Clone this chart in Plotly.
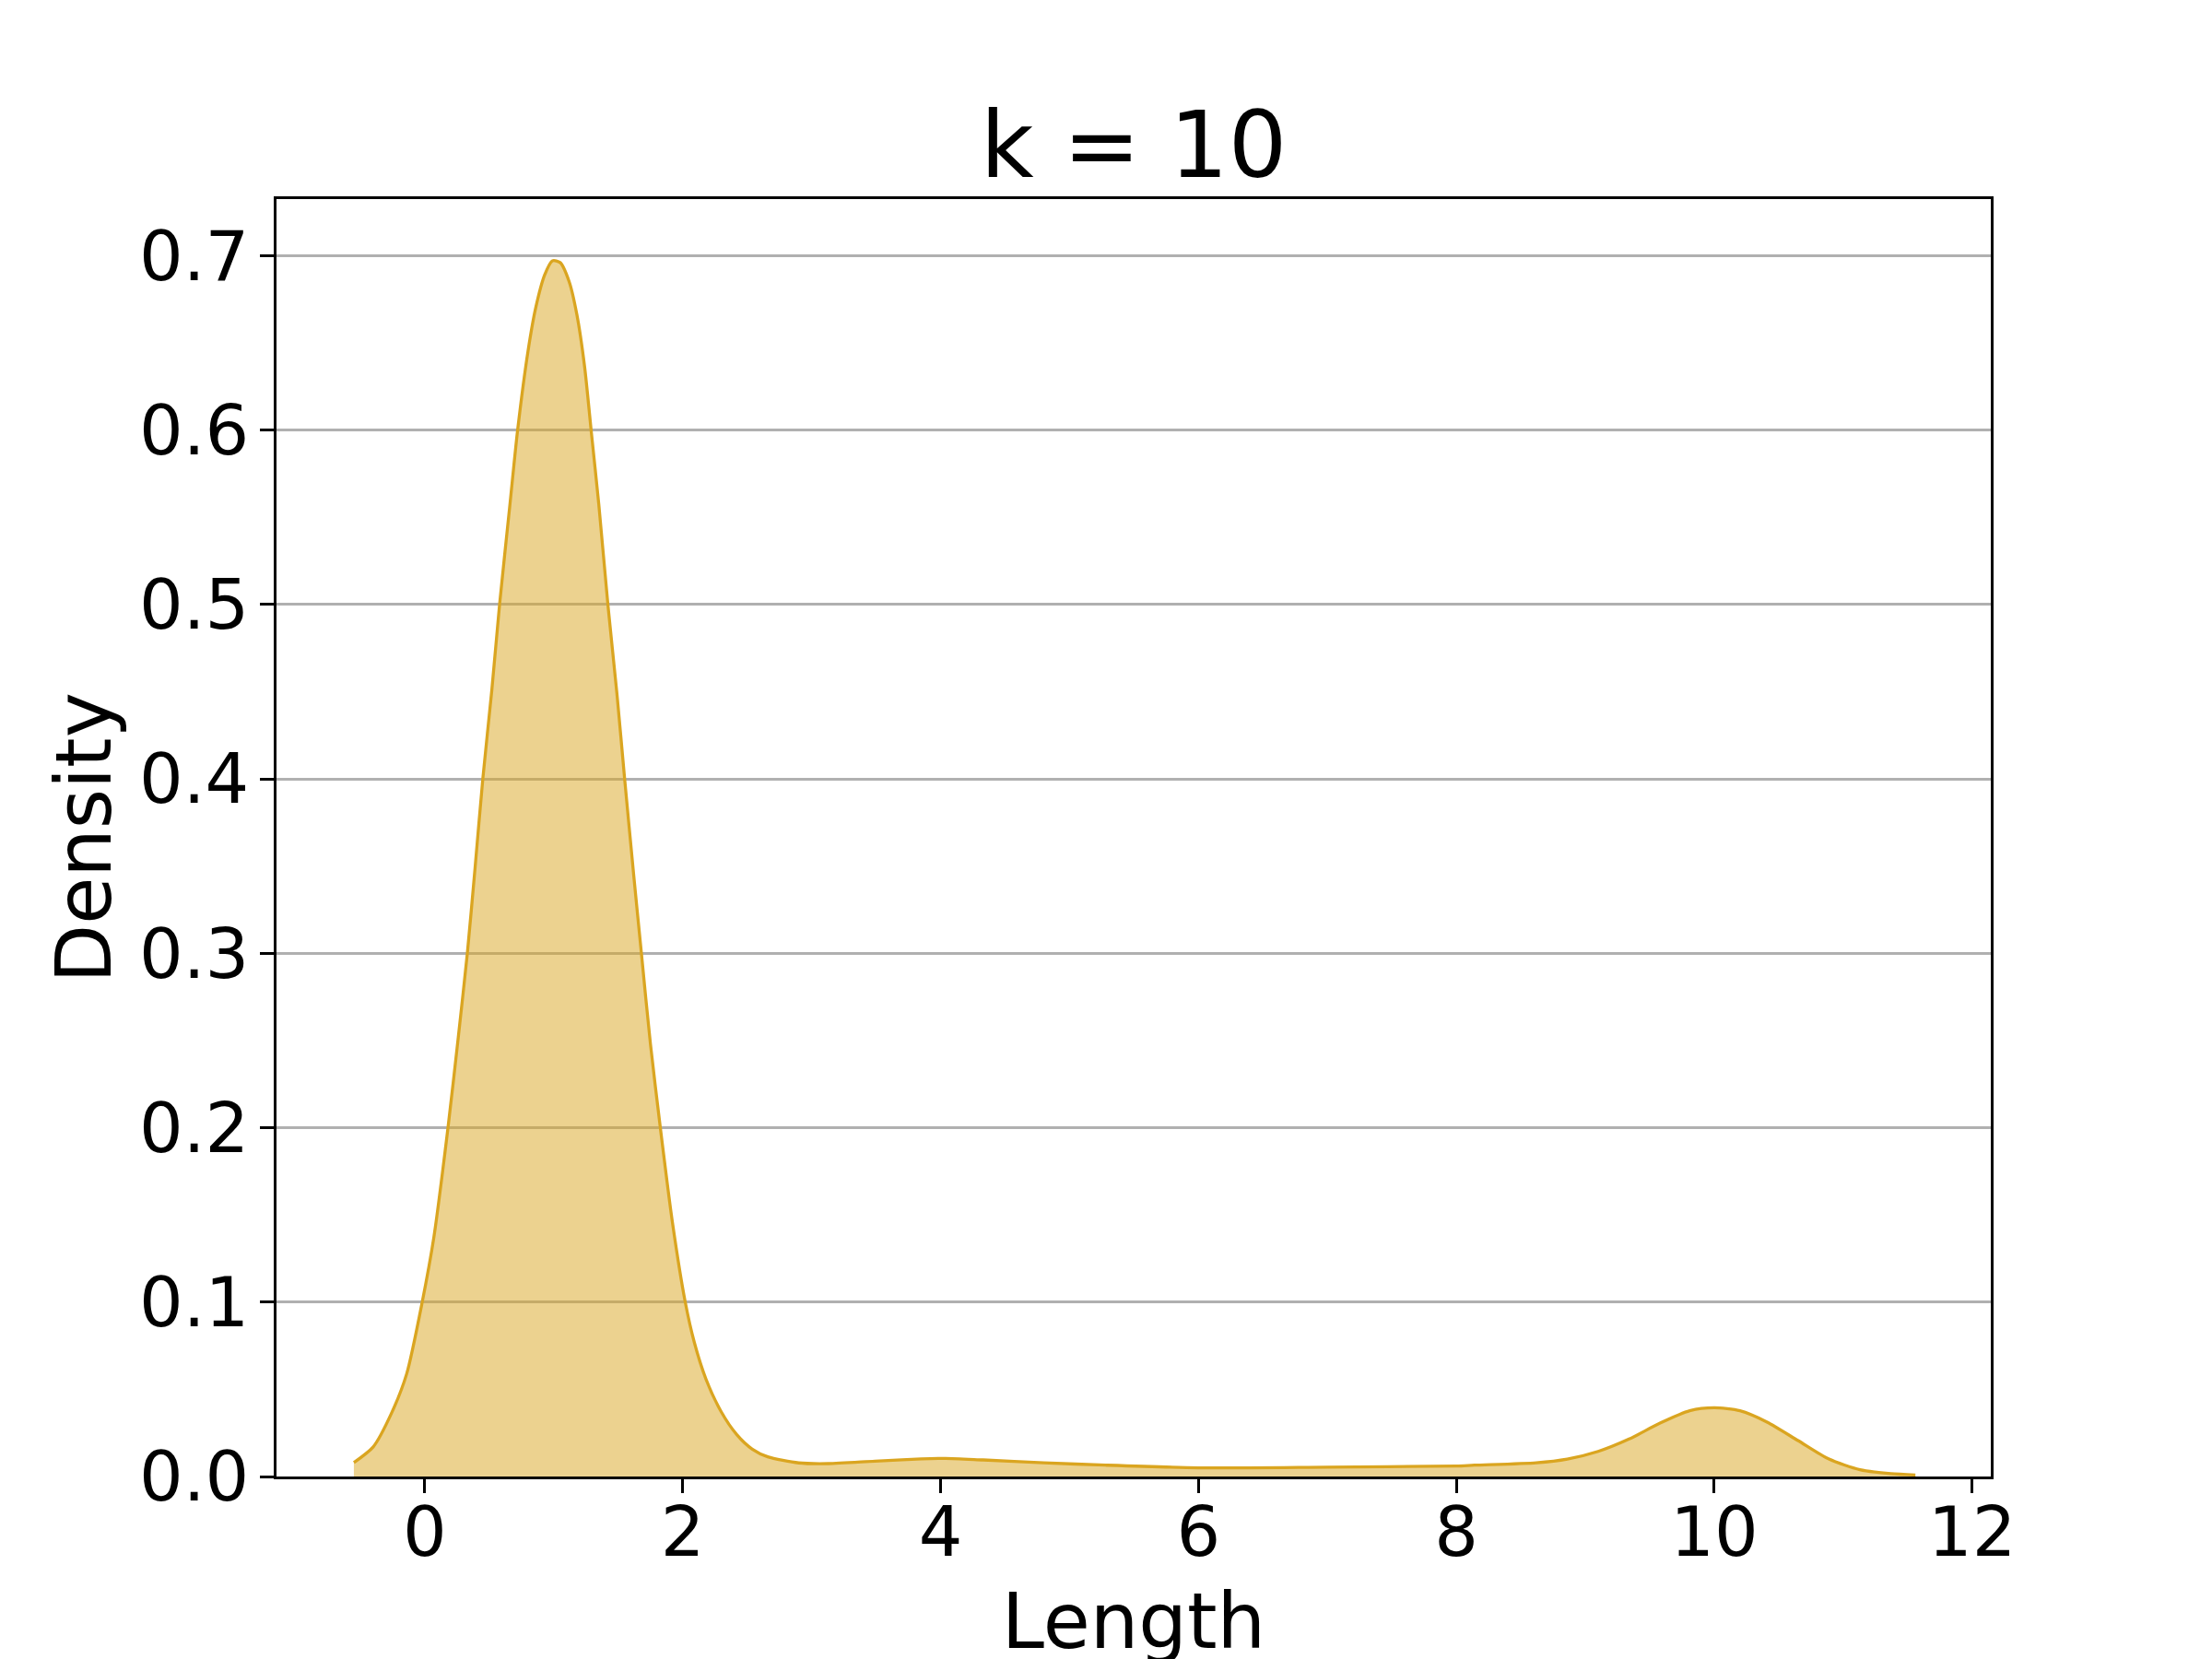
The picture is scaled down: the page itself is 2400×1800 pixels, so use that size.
import plotly.graph_objects as go

# KDE curve
length = [-0.55, -0.40, -0.26, -0.14, -0.02, 0.07, 0.18, 0.26, 0.33, 0.39, 0.45, 0.52,
          0.58, 0.66, 0.72, 0.80, 0.86, 0.93, 0.99, 1.05, 1.12, 1.18, 1.24, 1.29, 1.35,
          1.42, 1.49, 1.55, 1.62, 1.68, 1.75, 1.83, 1.92, 2.02, 2.09, 2.18, 2.30, 2.42,
          2.54, 2.66, 2.90, 3.13, 3.49, 3.85, 4.04, 4.33, 4.80, 5.28, 6.00, 7.00, 8.00,
          8.14, 8.62, 8.86, 9.10, 9.34, 9.58, 9.81, 10.00, 10.20, 10.41, 10.65, 10.89,
          11.13, 11.37, 11.56]
density = [0.008, 0.017, 0.036, 0.059, 0.100, 0.137, 0.200, 0.252, 0.300, 0.349, 0.400, 0.451,
           0.500, 0.557, 0.600, 0.645, 0.670, 0.689, 0.697, 0.696, 0.685, 0.666, 0.636, 0.600, 0.557,
           0.500, 0.449, 0.400, 0.345, 0.300, 0.248, 0.198, 0.146, 0.100, 0.077, 0.056, 0.037, 0.024,
           0.0157, 0.0113, 0.0078, 0.0074, 0.0088, 0.0101, 0.0104, 0.0095, 0.0079, 0.0065, 0.0050, 0.0054, 0.0060,
           0.0065, 0.0079, 0.0100, 0.0144, 0.0215, 0.0306, 0.0377, 0.0394, 0.0377, 0.0312, 0.0206, 0.0100,
           0.0039, 0.0016, 0.0009]

y_ticks = [0.0, 0.1, 0.2, 0.3, 0.4, 0.5, 0.6, 0.7]
x_ticks = [0, 2, 4, 6, 8, 10, 12]

FONT = "DejaVu Sans"

fig = go.Figure()
fig.add_trace(go.Scatter(
    x=length, y=density, mode="lines",
    line=dict(color="#DAA520", width=3.3, shape="spline", smoothing=0.7),
    fill="tozeroy", fillcolor="rgba(218,165,32,0.5)",
    showlegend=False, hoverinfo="skip",
))

axis_common = dict(
    showline=True, linecolor="black", linewidth=2.5, mirror=True,
    ticks="outside", ticklen=15, tickwidth=2.5, tickcolor="black",
    tickfont=dict(family=FONT, size=75, color="black"),
    zeroline=False, automargin=False,
)

fig.update_layout(
    width=2400, height=1800,
    margin=dict(l=292, r=248, t=208, b=206),
    paper_bgcolor="white", plot_bgcolor="white",
    font=dict(family=FONT, color="black"),
    title=dict(text="k = 10", x=0.5, xanchor="center", xref="paper",
               y=1 - 184 / 1800, yref="container", yanchor="bottom",
               font=dict(family=FONT, size=100, color="black")),
    xaxis=dict(range=[-1.15, 12.145], tickvals=x_ticks, showgrid=False,
               ticklabelstandoff=-22,
               title=dict(text="Length", font=dict(family=FONT, size=83), standoff=32),
               **axis_common),
    yaxis=dict(range=[0, 0.7324], tickvals=y_ticks, tickformat=".1f",
               showgrid=True, gridcolor="#b0b0b0", gridwidth=2.5,
               ticklabelstandoff=-3,
               title=dict(text="Density", font=dict(family=FONT, size=83), standoff=3),
               **axis_common),
)

fig.write_html("out.html")
